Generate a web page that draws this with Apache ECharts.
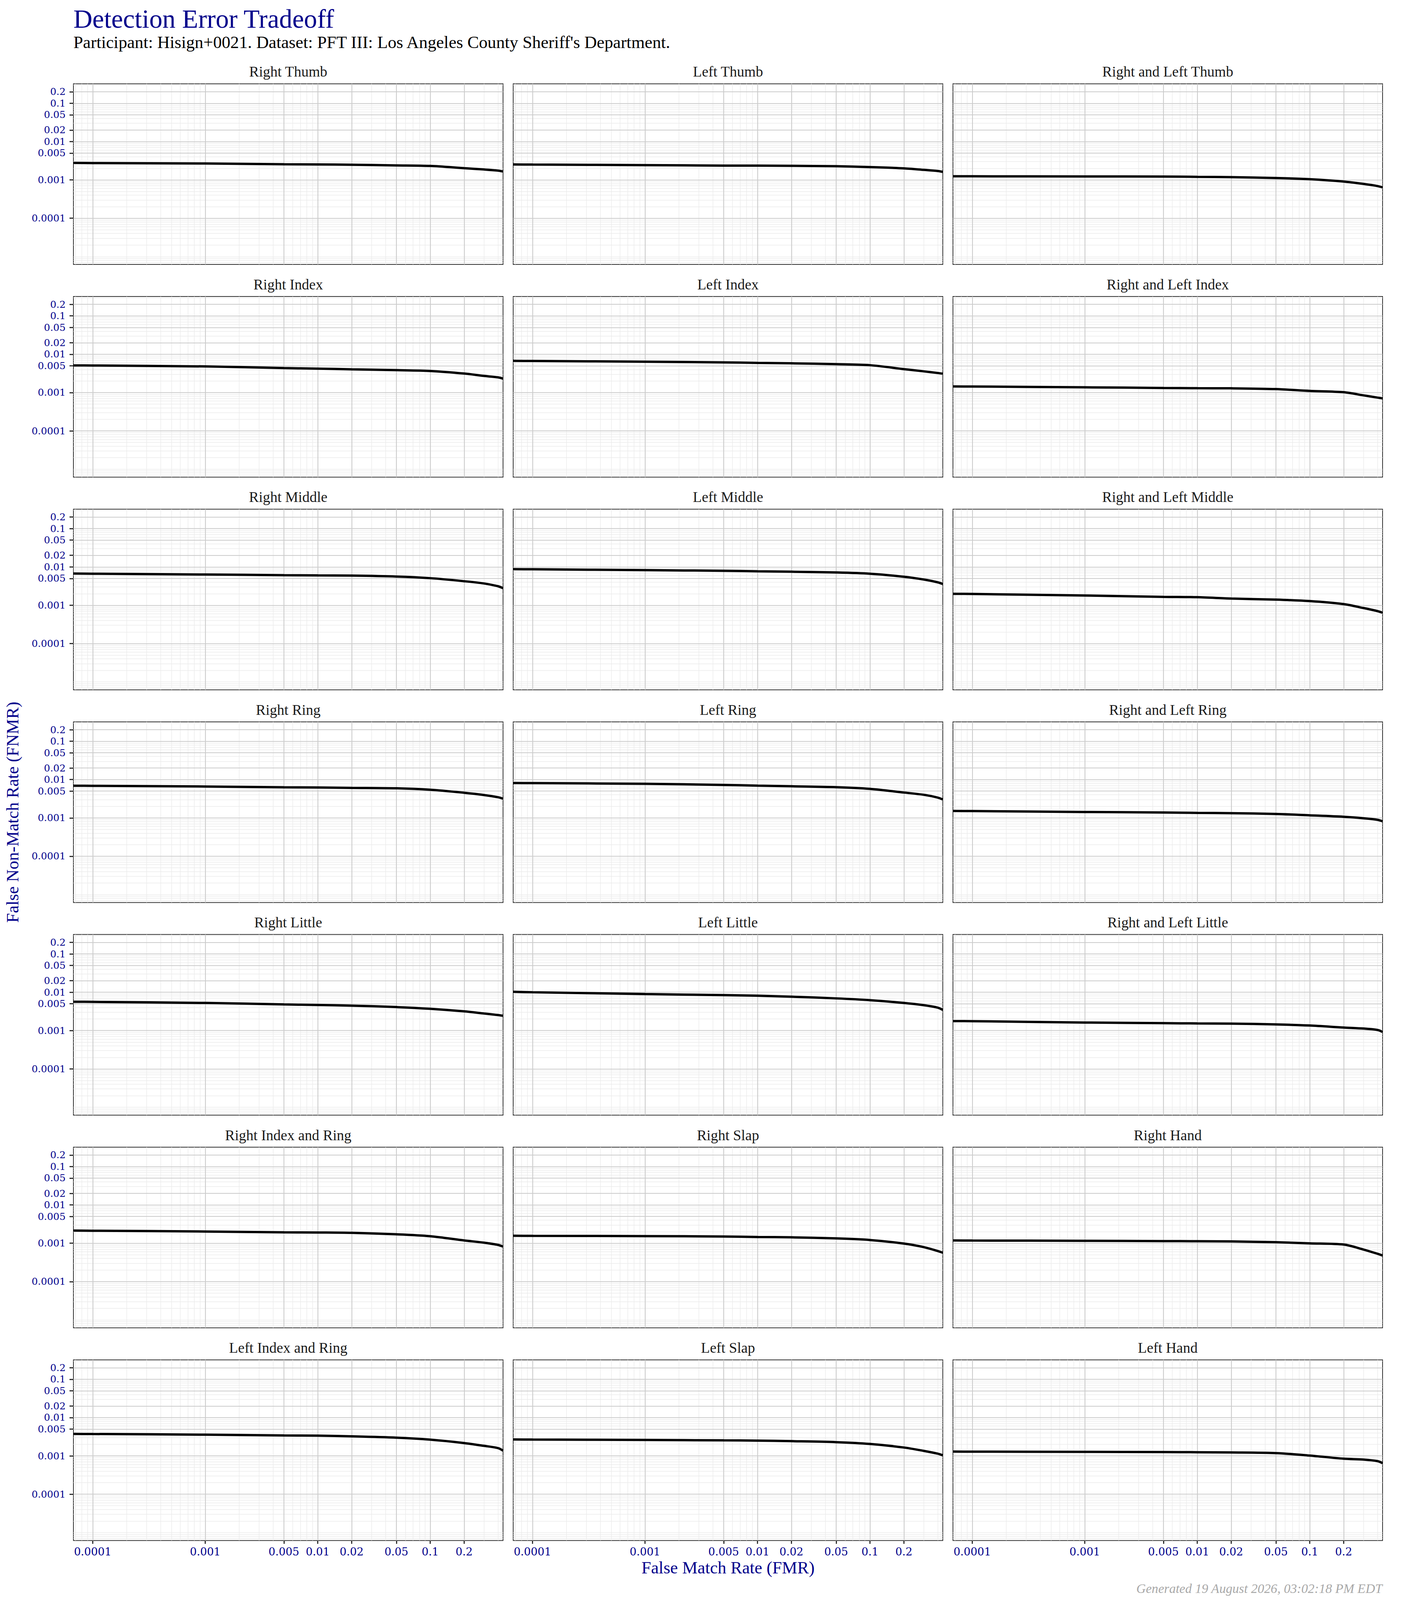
<!DOCTYPE html>
<html>
<head>
<meta charset="utf-8">
<script src="https://cdn.jsdelivr.net/npm/echarts@6/dist/echarts.min.js"></script>
<style>
html,body{margin:0;padding:0;background:#ffffff;overflow:hidden;}
#chart{position:absolute;left:0;top:0;}
</style>
</head>
<body>
<div id="chart"></div>
<script>
// ---------------- data ----------------
const panelNames = [
  'Right Thumb', 'Left Thumb', 'Right and Left Thumb',
  'Right Index', 'Left Index', 'Right and Left Index',
  'Right Middle', 'Left Middle', 'Right and Left Middle',
  'Right Ring', 'Left Ring', 'Right and Left Ring',
  'Right Little', 'Left Little', 'Right and Left Little',
  'Right Index and Ring', 'Right Slap', 'Right Hand',
  'Left Index and Ring', 'Left Slap', 'Left Hand'
];

// False Match Rate sample points (shared by every curve)
const fmr = [6.735e-5, 1e-4, 1e-3, 5e-3, 1e-2, 2e-2, 5e-2, 0.1, 0.2, 0.3, 0.4, 0.4434];

// False Non-Match Rate per panel
const fnmrRightThumb        = [0.00277, 0.00275, 0.00268, 0.00256, 0.00253, 0.00248, 0.00239, 0.00231, 0.00202, 0.00187, 0.00175, 0.00166];
const fnmrLeftThumb         = [0.00253, 0.00251, 0.00243, 0.00236, 0.00235, 0.00233, 0.00227, 0.00216, 0.00200, 0.00183, 0.00171, 0.00162];
const fnmrBothThumb         = [0.00124, 0.00124, 0.00123, 0.00122, 0.00120, 0.00118, 0.00112, 0.00104, 0.000904, 0.000785, 0.000690, 0.000638];
const fnmrRightIndex        = [0.00511, 0.00508, 0.00481, 0.00435, 0.00421, 0.00404, 0.00385, 0.00366, 0.00313, 0.00272, 0.00249, 0.00231];
const fnmrLeftIndex         = [0.00673, 0.00668, 0.00638, 0.00612, 0.00596, 0.00580, 0.00550, 0.00518, 0.00409, 0.00358, 0.00324, 0.00311];
const fnmrBothIndex         = [0.001446, 0.001437, 0.001371, 0.001317, 0.001299, 0.001290, 0.001231, 0.001106, 0.001020, 0.000845, 0.000739, 0.000705];
const fnmrRightMiddle       = [0.00673, 0.00664, 0.00633, 0.00608, 0.00600, 0.00592, 0.00561, 0.00508, 0.00423, 0.00370, 0.00313, 0.00279];
const fnmrLeftMiddle        = [0.00874, 0.00869, 0.00823, 0.00791, 0.00770, 0.00749, 0.00715, 0.00664, 0.00554, 0.00469, 0.00396, 0.00358];
const fnmrBothMiddle        = [0.001984, 0.001970, 0.001794, 0.001655, 0.001622, 0.001496, 0.001399, 0.001282, 0.001069, 0.000845, 0.000701, 0.000638];
const fnmrRightRing         = [0.00691, 0.00687, 0.00660, 0.00629, 0.00621, 0.00608, 0.00592, 0.00543, 0.00453, 0.00396, 0.00346, 0.00317];
const fnmrLeftRing          = [0.00812, 0.00807, 0.00775, 0.00724, 0.00696, 0.00669, 0.00633, 0.00573, 0.00459, 0.00401, 0.00339, 0.00303];
const fnmrBothRing          = [0.001516, 0.001506, 0.001427, 0.001380, 0.001353, 0.001326, 0.001265, 0.001167, 0.001069, 0.000980, 0.000892, 0.000818];
const fnmrRightLittle       = [0.00565, 0.00561, 0.00525, 0.00481, 0.00465, 0.00447, 0.00410, 0.00370, 0.00317, 0.00279, 0.00254, 0.00243];
const fnmrLeftLittle        = [0.01027, 0.01000, 0.00898, 0.00840, 0.00812, 0.00765, 0.00691, 0.00621, 0.00525, 0.00459, 0.00396, 0.00346];
const fnmrBothLittle        = [0.001770, 0.001758, 0.001622, 0.001557, 0.001536, 0.001516, 0.001446, 0.001353, 0.001199, 0.001129, 0.001034, 0.000917];
const fnmrRightIndexRing    = [0.002136, 0.002121, 0.002023, 0.001930, 0.001905, 0.001866, 0.001711, 0.001526, 0.001183, 0.001034, 0.000904, 0.000818];
const fnmrRightSlap         = [0.001568, 0.001557, 0.001536, 0.001495, 0.001456, 0.001427, 0.001335, 0.001214, 0.000980, 0.000791, 0.000625, 0.000565];
const fnmrRightHand         = [0.001183, 0.001175, 0.001159, 0.001136, 0.001129, 0.001114, 0.001062, 0.000993, 0.000923, 0.000685, 0.000530, 0.000478];
const fnmrLeftIndexRing     = [0.003752, 0.003727, 0.003580, 0.003416, 0.003370, 0.003237, 0.002986, 0.002650, 0.002164, 0.001830, 0.001600, 0.001371];
const fnmrLeftSlap          = [0.002683, 0.002665, 0.002611, 0.002542, 0.002508, 0.002425, 0.002283, 0.002051, 0.001655, 0.001353, 0.001144, 0.001034];
const fnmrLeftHand          = [0.001299, 0.001290, 0.001274, 0.001257, 0.001248, 0.001231, 0.001183, 0.001020, 0.000845, 0.000801, 0.000729, 0.000646];

const panelValues = [
  fnmrRightThumb, fnmrLeftThumb, fnmrBothThumb,
  fnmrRightIndex, fnmrLeftIndex, fnmrBothIndex,
  fnmrRightMiddle, fnmrLeftMiddle, fnmrBothMiddle,
  fnmrRightRing, fnmrLeftRing, fnmrBothRing,
  fnmrRightLittle, fnmrLeftLittle, fnmrBothLittle,
  fnmrRightIndexRing, fnmrRightSlap, fnmrRightHand,
  fnmrLeftIndexRing, fnmrLeftSlap, fnmrLeftHand
];

// Tick values and labels
const xTickValues = [0.0001, 0.001, 0.005, 0.01, 0.02, 0.05, 0.1, 0.2];
const xTickLabels = ['0.0001', '0.001', '0.005', '0.01', '0.02', '0.05', '0.1', '0.2'];
const yTickValues = [0.2, 0.1, 0.05, 0.02, 0.01, 0.005, 0.001, 0.0001];
const yTickLabels = ['0.2', '0.1', '0.05', '0.02', '0.01', '0.005', '0.001', '0.0001'];

// Axis ranges (log scale)
const xRange = [6.735e-5, 0.4434];
const yRange = [6.2e-6, 0.321];

// ---------------- layout (designed for 3600 x 4800, scaled to the window) ----------------
const W = window.innerWidth || 3600;
const H = window.innerHeight || 4800;
const sx = W / 3600, sy = H / 4800, sf = Math.pow(sx * sy, 0.25);
const X = v => v * sx, Y = v => v * sy, F = v => v * sf;

const FF = '"Liberation Serif", "DejaVu Serif", serif';
const FT = '"DejaVu Serif", "Liberation Serif", serif';   // tick labels
const NAVY = '#00008B';
const colLeft = [188, 1314, 2440];
const panelW = 1100;
const panelH = 542;
const firstTop = 251.5;
const rowPitch = 638;
const nCols = 3, nRows = 7;
// tick-label sizes: y labels must fit in the 0.2-0.1 spacing
const xTickFont = F(28.6);
const yTickFont = Math.min(F(28.6), Y(34.7) / 1.19);

function sameVal(a, b) { return Math.abs(Math.log10(a / b)) < 1e-6; }
function fmtFrom(vals, labels) {
  return function (v) {
    for (let i = 0; i < vals.length; i++) if (sameVal(v, vals[i])) return labels[i];
    return '';
  };
}
// log minor breaks 1..9 x 10^e inside a range (gridline decoration)
function logBreaks(range) {
  const out = [];
  const e0 = Math.floor(Math.log10(range[0])), e1 = Math.ceil(Math.log10(range[1]));
  for (let e = e0; e <= e1; e++) {
    for (let k = 1; k <= 9; k++) {
      const v = parseFloat((k * Math.pow(10, e)).toPrecision(6));
      if (v > range[0] && v < range[1]) out.push(v);
    }
  }
  return out;
}
function isMajor(v, majors) { return majors.some(m => sameVal(v, m)); }

const MAJOR_COLOR = '#cccccc', MINOR_COLOR = '#ebebeb';
const gridLineItems = [];
logBreaks(yRange).filter(v => !isMajor(v, yTickValues)).forEach(v =>
  gridLineItems.push({ yAxis: v, lineStyle: { color: MINOR_COLOR, width: 1.4, type: 'solid' } }));
logBreaks(xRange).filter(v => !isMajor(v, xTickValues)).forEach(v =>
  gridLineItems.push({ xAxis: v, lineStyle: { color: MINOR_COLOR, width: 1.4, type: 'solid' } }));
yTickValues.forEach(v =>
  gridLineItems.push({ yAxis: v, lineStyle: { color: MAJOR_COLOR, width: 2.2, type: 'solid' } }));
xTickValues.forEach(v =>
  gridLineItems.push({ xAxis: v, lineStyle: { color: MAJOR_COLOR, width: 2.2, type: 'solid' } }));

// y labels are split over two overlaid axes so neighbouring labels are never dropped
const yLabelsA = yTickValues.filter((v, k) => k % 2 === 0);
const yLabelsB = yTickValues.filter((v, k) => k % 2 === 1);

const grids = [], xAxes = [], yAxes = [], series = [], graphics = [];

function yAxisBase(i, show) {
  return {
    type: 'log', logBase: 10, gridIndex: i, min: yRange[0], max: yRange[1], position: 'left', offset: 0,
    axisLine: { show: false },
    splitLine: { show: false },
    minorTick: { show: false }, minorSplitLine: { show: false },
    axisTick: { show: false },
    axisLabel: { show: show, formatter: fmtFrom(yTickValues, yTickLabels),
      showMinLabel: true, showMaxLabel: true, hideOverlap: false,
      color: NAVY, fontSize: yTickFont, fontFamily: FT, margin: X(20) }
  };
}

panelNames.forEach((name, i) => {
  const r = Math.floor(i / nCols), c = i % nCols;
  const top = firstTop + r * rowPitch;
  const left = colLeft[c];
  const isBottom = r === nRows - 1;
  const isLeft = c === 0;

  grids.push({
    left: X(left), top: Y(top), width: X(panelW), height: Y(panelH),
    show: true, borderColor: '#333333', borderWidth: 2, backgroundColor: '#ffffff',
    containLabel: false
  });

  const xa = {
    type: 'log', logBase: 10, gridIndex: i, min: xRange[0], max: xRange[1], position: 'bottom',
    axisLine: { show: false },
    splitLine: { show: false },
    minorTick: { show: false }, minorSplitLine: { show: false },
    axisTick: { show: isBottom, customValues: xTickValues, length: Y(10), lineStyle: { color: '#333333', width: 3 } },
    axisLabel: { show: isBottom, customValues: xTickValues, formatter: fmtFrom(xTickValues, xTickLabels),
      showMinLabel: true, showMaxLabel: true, hideOverlap: false,
      color: NAVY, fontSize: xTickFont, fontFamily: FT, margin: Y(17) }
  };
  if (isBottom && c === 1) {
    xa.name = 'False Match Rate (FMR)';
    xa.nameLocation = 'middle';
    xa.nameGap = Y(56);
    xa.nameTextStyle = { color: NAVY, fontSize: F(46), fontFamily: FF };
  }
  xAxes.push(xa);

  // primary y axis: carries the data, all ticks, and half of the labels
  const yaIndex = yAxes.length;
  const ya = yAxisBase(i, isLeft);
  ya.axisTick = { show: isLeft, customValues: yTickValues, length: X(10), lineStyle: { color: '#333333', width: 3 } };
  ya.axisLabel.customValues = yLabelsA;
  if (isLeft && r === 3) {
    ya.name = 'False Non-Match Rate (FNMR)';
    ya.nameLocation = 'middle';
    ya.nameRotate = 90;
    ya.nameGap = X(134);
    ya.nameTextStyle = { color: NAVY, fontSize: F(46), fontFamily: FF };
  }
  yAxes.push(ya);
  // secondary overlaid y axis: the other half of the labels
  const yb = yAxisBase(i, isLeft);
  yb.axisLabel.customValues = yLabelsB;
  yAxes.push(yb);

  // background gridlines
  series.push({
    type: 'line', xAxisIndex: i, yAxisIndex: yaIndex, data: [], silent: true, z: 1,
    markLine: {
      silent: true, symbol: ['none', 'none'], precision: 20, animation: false, z: 1,
      label: { show: false }, emphasis: { disabled: true },
      data: gridLineItems
    }
  });

  // DET curve
  series.push({
    type: 'line', name: name, xAxisIndex: i, yAxisIndex: yaIndex, z: 3,
    data: fmr.map((x, j) => [x, panelValues[i][j]]),
    showSymbol: false, symbol: 'none', clip: true, smooth: 0.3,
    lineStyle: { color: '#000000', width: 6 },
    emphasis: { disabled: true }
  });

  // strip title
  graphics.push({
    type: 'text', x: X(left + panelW / 2), y: Y(top - 36), silent: true,
    style: { text: name, fill: '#1a1a1a', fontSize: F(39), fontFamily: FF,
      align: 'center', verticalAlign: 'middle', textAlign: 'center', textVerticalAlign: 'middle' }
  });
});

const el = document.getElementById('chart');
el.style.width = W + 'px';
el.style.height = H + 'px';
const chart = echarts.init(el, null, { renderer: 'svg', width: W, height: H });
chart.setOption({
  animation: false,
  backgroundColor: '#ffffff',
  title: [
    { text: 'Detection Error Tradeoff', left: X(188), top: Y(18), padding: 0,
      textStyle: { color: NAVY, fontSize: F(70), fontWeight: 'normal', fontFamily: FF } },
    { text: "Participant: Hisign+0021. Dataset: PFT III: Los Angeles County Sheriff's Department.", left: X(188), top: Y(101), padding: 0,
      textStyle: { color: '#000000', fontSize: F(46), fontWeight: 'normal', fontFamily: FF } },
    { text: 'Generated 19 August 2026, 03:02:18 PM EDT', right: X(60), top: Y(4746), padding: 0,
      textStyle: { color: '#a8a8a8', fontSize: F(35), fontStyle: 'italic', fontWeight: 'normal', fontFamily: FF } }
  ],
  grid: grids,
  xAxis: xAxes,
  yAxis: yAxes,
  series: series,
  graphic: { elements: graphics }
});
</script>
</body>
</html>
